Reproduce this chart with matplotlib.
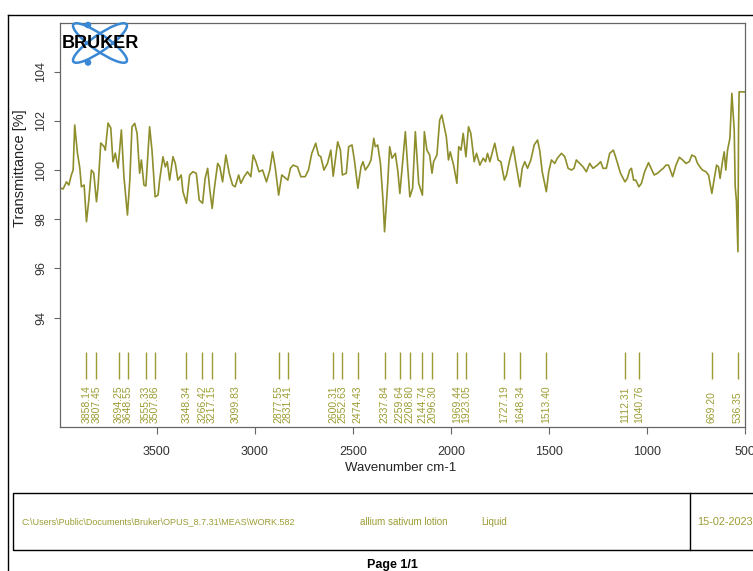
import matplotlib
matplotlib.use("Agg")
import matplotlib.pyplot as plt
from matplotlib.patches import Ellipse, Rectangle, Circle
from matplotlib.lines import Line2D

plt.rcParams['font.family'] = ['Liberation Sans', 'DejaVu Sans']

# ---------------- data ----------------
wavenumber = [
    3992, 3977, 3960, 3948, 3935, 3926, 3918, 3904, 3892, 3884,
    3870, 3858, 3846, 3833, 3821, 3807, 3799, 3785, 3768, 3762,
    3748, 3734, 3723, 3711, 3697, 3680, 3667, 3649, 3637, 3626,
    3612, 3600, 3587, 3578, 3565, 3555, 3536, 3524, 3508, 3493,
    3485, 3468, 3456, 3446, 3434, 3417, 3405, 3392, 3375, 3366,
    3348, 3332, 3315, 3298,
    3283, 3266, 3253, 3240, 3229, 3217, 3207, 3189, 3178, 3164,
    3147, 3130, 3113, 3100, 3082, 3071, 3054, 3037, 3020, 3008,
    2994, 2978, 2960, 2940, 2923, 2909, 2896, 2878, 2862, 2831,
    2818, 2804, 2782, 2765, 2743, 2726, 2709, 2689, 2675, 2663,
    2647, 2629, 2612, 2600,
    2577, 2563, 2553, 2533, 2521, 2504, 2492, 2474, 2458, 2448,
    2436, 2419, 2407, 2393, 2385, 2373, 2359, 2346, 2338, 2322,
    2312, 2300, 2283, 2270, 2260, 2232, 2220, 2209, 2195, 2181,
    2164, 2145, 2135, 2122, 2108, 2096, 2088, 2071, 2057, 2046,
    2037, 2023, 2012, 2003, 1986, 1969, 1960, 1948, 1937, 1923,
    1910, 1898,
    1881, 1869, 1852, 1835, 1823, 1813, 1801, 1776, 1759, 1745,
    1727, 1716, 1700, 1682, 1670, 1648, 1636, 1623, 1609, 1592,
    1575, 1558, 1547, 1534, 1513, 1501, 1487, 1470, 1457, 1436,
    1419, 1402, 1385, 1372, 1360, 1343, 1326, 1309, 1292, 1275,
    1253, 1236, 1224, 1207,
    1190, 1171, 1155, 1135, 1112, 1100, 1088, 1079, 1068, 1057,
    1041, 1028, 1012, 992, 979, 963, 946, 928, 917, 903,
    890, 869, 852, 835, 818, 801, 784, 771, 754, 742,
    730, 717, 699, 686, 669, 658, 645, 635, 627, 615,
    606, 598, 589, 577, 567, 555, 550, 544, 536, 533,
    530, 513, 500,
]
transmittance = [
    99.27, 99.23, 99.52, 99.39, 99.80, 100.00, 101.83, 100.69, 100.08, 99.32,
    99.39, 97.90, 98.78, 100.00, 99.88, 98.71, 99.32, 101.10, 100.95, 100.81,
    101.91, 101.71, 100.34, 100.69, 100.08, 101.63, 99.73, 98.17, 99.59, 101.76,
    101.90, 101.49, 99.87, 100.41, 99.39, 99.35, 101.76, 100.81, 98.91, 98.98,
    99.59, 100.54, 100.13, 100.34, 99.59, 100.54, 100.27, 99.59, 99.80, 99.12,
    98.65, 99.80, 99.93, 99.87,
    98.78, 98.65, 99.66, 100.07, 99.19, 98.44, 99.19, 100.27, 100.13, 99.52,
    100.61, 99.87, 99.39, 99.32, 99.80, 99.46, 99.73, 99.93, 99.73, 100.61,
    100.34, 99.93, 100.00, 99.52, 100.00, 100.74, 100.13, 98.98, 99.80, 99.59,
    100.07, 100.20, 100.13, 99.73, 99.73, 100.00, 100.68, 101.09, 100.61, 100.54,
    100.00, 100.27, 100.81, 99.75,
    101.15, 100.81, 99.80, 99.87, 100.95, 101.02, 100.41, 99.26, 100.13, 100.34,
    100.00, 100.20, 100.41, 101.29, 100.95, 101.02, 100.27, 98.78, 97.49, 99.46,
    100.95, 100.48, 100.68, 99.93, 99.05, 101.56, 100.13, 98.91, 99.26, 101.56,
    99.46, 98.98, 101.56, 100.81, 100.61, 99.87, 100.34, 100.61, 102.03, 102.24,
    101.90, 101.35, 100.41, 100.74, 100.20, 99.46, 100.95, 100.81, 101.49, 100.54,
    101.76, 101.49,
    100.34, 100.68, 100.20, 100.48, 100.34, 100.68, 100.34, 101.09, 100.41, 100.34,
    99.59, 99.80, 100.41, 100.95, 100.34, 99.32, 100.07, 100.34, 100.07, 100.41,
    101.02, 101.22, 100.81, 99.93, 99.12, 99.93, 100.41, 100.27, 100.48, 100.68,
    100.54, 100.07, 100.00, 100.07, 100.41, 100.27, 100.13, 99.93, 100.27, 100.07,
    100.20, 100.34, 100.07, 100.07,
    100.68, 100.81, 100.41, 99.87, 99.52, 99.66, 100.00, 100.07, 99.59, 99.59,
    99.32, 99.46, 99.93, 100.30, 100.07, 99.80, 99.87, 100.00, 100.07, 100.20,
    100.20, 99.73, 100.20, 100.52, 100.41, 100.27, 100.34, 100.61, 100.54, 100.27,
    100.13, 100.00, 99.93, 99.80, 99.05, 99.59, 100.20, 100.13, 99.66, 100.34,
    100.74, 100.00, 100.81, 101.29, 103.12, 101.63, 99.32, 98.78, 96.68, 101.63,
    103.18, 103.18, 103.18,
]
peak_labels = ["3858.14", "3807.45", "3694.25", "3648.55", "3555.33", "3507.86",
               "3348.34", "3266.42", "3217.15", "3099.83", "2877.55", "2831.41",
               "2600.31", "2552.63", "2474.43", "2337.84", "2259.64", "2208.80",
               "2144.74", "2096.30", "1969.44", "1923.05", "1727.19", "1648.34",
               "1513.40", "1112.31", "1040.76", "669.20", "536.35"]
peaks = [float(s) for s in peak_labels]
x_ticks = [3500, 3000, 2500, 2000, 1500, 1000, 500]
y_ticks = [94, 96, 98, 100, 102, 104]

# ---------------- figure ----------------
W, H = 753, 571
fig = plt.figure(figsize=(W / 100, H / 100), dpi=100)

def fx(px):
    return px / W

def fy(py):
    return 1 - py / H

line_col = '#8e8e2c'
text_col = '#9c9c34'
spine_col = '#666666'

ax = fig.add_axes([fx(60), fy(427), fx(745) - fx(60), fy(23) - fy(427)])
ax.plot(wavenumber, transmittance, color=line_col, lw=1.2)
ax.set_xlim(3993, 500)
ax.set_ylim(89.55, 105.98)
ax.set_xticks(x_ticks)
ax.set_yticks(y_ticks)
ax.tick_params(axis='x', length=5, width=0.8, color=spine_col, pad=8.5,
               labelsize=9, labelcolor='#333333')
ax.tick_params(axis='y', length=4, width=0.8, color=spine_col, pad=5.3,
               labelsize=9, labelcolor='#333333')
for lab in ax.get_yticklabels():
    lab.set_rotation(90)
    lab.set_va('center')
for s in ax.spines.values():
    s.set_color(spine_col)
    s.set_linewidth(0.9)

# peak markers and labels
ax.vlines(peaks, 91.5, 92.6, color=text_col, lw=1.0)
for p, lab in zip(peaks, peak_labels):
    ax.text(p, 89.72, lab, rotation=90, ha='center', va='bottom',
            fontsize=7.5, color=text_col)

# axis labels
fig.text(fx(401), fy(468), "Wavenumber cm-1", ha='center', va='center',
         fontsize=9.5, color='#222222')
fig.text(fx(20), fy(168), "Transmittance [%]", ha='center', va='center',
         rotation=90, fontsize=10.5, color='#222222')

# Bruker logo
lax = fig.add_axes([fx(60), fy(68), fx(140) - fx(60), fy(18) - fy(68)])
lax.set_xlim(60, 140)
lax.set_ylim(68, 18)
lax.axis('off')
blue = '#3a88d4'
for ang in (35, -35):
    lax.add_patch(Ellipse((100, 43), 65, 16, angle=ang, fill=False,
                          ec=blue, lw=1.8))
lax.add_patch(Circle((88, 25), 2.6, color=blue))
lax.add_patch(Circle((88, 62.5), 2.6, color=blue))
lax.text(100.5, 44, "BRUKER", ha='center', va='center', fontsize=13,
         fontweight='bold', color='black')

# page frame
fig.add_artist(Line2D([fx(8), fx(8)], [0, fy(15)], color='black', lw=1.0,
                      transform=fig.transFigure))
fig.add_artist(Line2D([fx(8), 1.0], [fy(15), fy(15)], color='black', lw=1.0,
                      transform=fig.transFigure))

# info box
fig.add_artist(Rectangle((fx(13), fy(550)), fx(770) - fx(13), fy(493) - fy(550),
                         fill=False, ec='black', lw=1.0,
                         transform=fig.transFigure))
fig.add_artist(Line2D([fx(690), fx(690)], [fy(550), fy(493)], color='black',
                      lw=1.0, transform=fig.transFigure))
fig.text(fx(22), fy(522), r"C:\Users\Public\Documents\Bruker\OPUS_8.7.31\MEAS\WORK.582",
         ha='left', va='center', fontsize=6.45, color=text_col)
fig.text(fx(360), fy(522), "allium sativum lotion", ha='left', va='center',
         fontsize=7, color=text_col)
fig.text(fx(481), fy(522), "Liquid", ha='left', va='center',
         fontsize=7, color=text_col)
fig.text(fx(697), fy(522), "15-02-2023", ha='left', va='center',
         fontsize=7.8, color=text_col)
fig.text(fx(392), fy(565), "Page 1/1", ha='center', va='center',
         fontsize=9, fontweight='bold', color='black')

fig.savefig("out.png", dpi=100)
